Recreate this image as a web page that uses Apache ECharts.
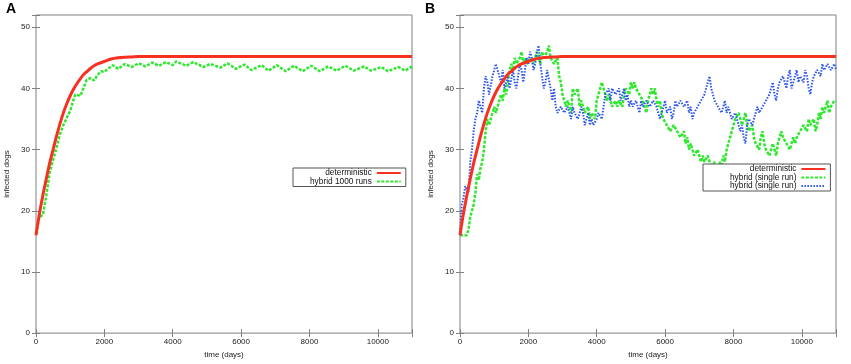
<!DOCTYPE html>
<html>
<head>
<meta charset="utf-8">
<script src="https://cdn.jsdelivr.net/npm/echarts@6/dist/echarts.min.js"></script>
<style>
  html, body { margin: 0; padding: 0; background: #fff; }
  #chart { width: 851px; height: 364px; }
</style>
</head>
<body>
<div id="chart"></div>
<script>
const FONT = "Liberation Sans, Arial, sans-serif";
const RED = "#f83020";
const GREEN = "#2ee82e";
const BLUE = "#2b55ec";
const FRAME = "#808080";

// deterministic model (same curve in both panels)
const detDays = [0, 100, 200, 300, 400, 500, 600, 700, 800, 900, 1000, 1100, 1200,
  1300, 1400, 1500, 1600, 1700, 1800, 2000, 2200, 2400, 2600, 2800, 3000, 4000,
  5000, 6000, 7000, 8000, 9000, 10000, 11000];
const detInfected = [16, 19.5, 22.5, 25.2, 27.8, 30, 32.2, 34.2, 36, 37.5, 38.8,
  39.9, 40.8, 41.6, 42.3, 42.8, 43.3, 43.7, 44, 44.4, 44.8, 45, 45.1, 45.15, 45.2,
  45.2, 45.2, 45.2, 45.2, 45.2, 45.2, 45.2, 45.2];

// panel A: mean of 1000 hybrid runs
const avgDays = [0, 100, 200, 300, 400, 500, 600, 700, 800, 900, 1000, 1100, 1150,
  1200, 1300, 1400, 1480, 1600, 1700, 1800, 1900, 2000, 2100, 2250, 2400, 2600,
  2800, 3000, 3200, 3400, 3600, 3800, 4000, 4100, 4400, 4600, 4900, 5100, 5400,
  5600, 5850, 6100, 6300, 6600, 6800, 7050, 7300, 7550, 7800, 8050, 8300, 8550,
  8800, 9050, 9300, 9600, 9800, 10100, 10300, 10600, 10800, 11000];
const avgInfected = [16.2, 19, 19.3, 22.5, 26.2, 28.3, 30.3, 32.5, 34, 35.2, 36.3,
  38.2, 39, 39.3, 38.8, 40.2, 41.4, 41.7, 41.3, 42.2, 42.8, 42.7, 43.2, 43.8, 43.2,
  44, 43.5, 44.1, 43.6, 44.2, 43.7, 44.3, 43.8, 44.4, 43.7, 44.3, 43.5, 44, 43.4,
  44.1, 43.2, 43.9, 43, 43.8, 42.9, 43.8, 42.8, 43.7, 42.8, 43.7, 42.8, 43.6, 42.9,
  43.7, 42.9, 43.6, 42.9, 43.5, 42.8, 43.5, 42.9, 43.6];

// panel B: two single hybrid runs, sampled every 50 days
const runDays = [
  0, 50, 100, 150, 200, 250, 300, 350, 400, 450, 500, 550, 600, 650, 700, 750, 800, 850, 900, 950,
  1000, 1050, 1100, 1150, 1200, 1250, 1300, 1350, 1400, 1450, 1500, 1550, 1600, 1650, 1700, 1750, 1800, 1850, 1900, 1950,
  2000, 2050, 2100, 2150, 2200, 2250, 2300, 2350, 2400, 2450, 2500, 2550, 2600, 2650, 2700, 2750, 2800, 2850, 2900, 2950,
  3000, 3050, 3100, 3150, 3200, 3250, 3300, 3350, 3400, 3450, 3500, 3550, 3600, 3650, 3700, 3750, 3800, 3850, 3900, 3950,
  4000, 4050, 4100, 4150, 4200, 4250, 4300, 4350, 4400, 4450, 4500, 4550, 4600, 4650, 4700, 4750, 4800, 4850, 4900, 4950,
  5000, 5050, 5100, 5150, 5200, 5250, 5300, 5350, 5400, 5450, 5500, 5550, 5600, 5650, 5700, 5750, 5800, 5850, 5900, 5950,
  6000, 6050, 6100, 6150, 6200, 6250, 6300, 6350, 6400, 6450, 6500, 6550, 6600, 6650, 6700, 6750, 6800, 6850, 6900, 6950,
  7000, 7050, 7100, 7150, 7200, 7250, 7300, 7350, 7400, 7450, 7500, 7550, 7600, 7650, 7700, 7750, 7800, 7850, 7900, 7950,
  8000, 8050, 8100, 8150, 8200, 8250, 8300, 8350, 8400, 8450, 8500, 8550, 8600, 8650, 8700, 8750, 8800, 8850, 8900, 8950,
  9000, 9050, 9100, 9150, 9200, 9250, 9300, 9350, 9400, 9450, 9500, 9550, 9600, 9650, 9700, 9750, 9800, 9850, 9900, 9950,
  10000, 10050, 10100, 10150, 10200, 10250, 10300, 10350, 10400, 10450, 10500, 10550, 10600, 10650, 10700, 10750, 10800, 10850, 10900, 10950,
  11000];
const runGreen = [
  16, 16, 16, 16, 16, 17, 19, 20, 21, 23, 26, 25, 27, 28, 30, 33, 35, 34, 35, 36,
  37, 36, 37, 38, 39, 38, 40, 39, 41, 43, 44, 43, 45, 44, 44, 45, 46, 44, 45, 44,
  44, 45, 45, 44, 45, 46, 45, 44, 46, 45, 45, 46, 47, 45, 45, 44, 44, 45, 42, 41,
  39, 38, 37, 38, 38, 36, 40, 39, 39, 40, 37, 38, 37, 36, 36, 37, 35, 36, 36, 35,
  38, 39, 40, 41, 41, 39, 38, 39, 38, 37, 37, 38, 37, 38, 38, 37, 39, 40, 40, 39,
  41, 40, 41, 40, 40, 39, 39, 38, 37, 36, 38, 39, 40, 39, 40, 38, 37, 38, 36, 35,
  35, 34, 34, 33, 33, 34, 34, 33, 33, 32, 32, 33, 31, 32, 30, 31, 30, 29, 29, 30,
  29, 28, 29, 28, 28, 29, 28, 27, 27, 28, 26, 27, 28, 27, 29, 28, 30, 31, 32, 33,
  34, 35, 35, 36, 35, 34, 35, 36, 34, 33, 33, 34, 32, 31, 31, 30, 32, 33, 31, 30,
  30, 29, 29, 31, 30, 29, 31, 32, 33, 32, 32, 31, 31, 30, 31, 32, 31, 32, 32, 33,
  33, 34, 34, 33, 35, 34, 34, 35, 33, 34, 36, 35, 37, 36, 37, 38, 36, 37, 37, 38,
  38];
const runBlue = [
  16, 21, 22, 24, 24, 23, 28, 30, 33, 35, 36, 38, 38, 36, 40, 42, 41, 39, 39, 42,
  42, 44, 44, 42, 41, 43, 40, 41, 42, 40, 40, 43, 41, 40, 42, 44, 43, 41, 43, 45,
  44, 46, 45, 43, 44, 46, 47, 44, 42, 40, 41, 43, 43, 40, 38, 40, 37, 36, 36, 37,
  37, 36, 36, 37, 36, 35, 37, 36, 36, 35, 35, 37, 36, 34, 35, 36, 34, 35, 34, 34,
  35, 36, 36, 35, 37, 39, 39, 40, 38, 40, 40, 39, 39, 40, 38, 39, 40, 38, 39, 37,
  38, 37, 37, 38, 37, 36, 38, 37, 37, 38, 38, 37, 37, 38, 38, 37, 37, 35, 36, 37,
  38, 36, 36, 37, 35, 36, 38, 37, 37, 38, 38, 37, 37, 38, 36, 37, 35, 36, 36, 37,
  37, 38, 38, 39, 40, 41, 42, 40, 39, 38, 38, 37, 37, 36, 37, 38, 36, 37, 36, 35,
  35, 36, 35, 34, 33, 34, 32, 31, 34, 35, 35, 34, 34, 36, 37, 36, 36, 37, 37, 38,
  38, 39, 40, 41, 39, 38, 40, 41, 41, 42, 42, 40, 42, 43, 40, 41, 42, 43, 41, 42,
  42, 41, 43, 42, 40, 39, 41, 42, 42, 43, 43, 42, 44, 43, 43, 44, 44, 43, 43, 44,
  43];

const xTicks = [0, 2000, 4000, 6000, 8000, 10000];
const yTicks = [0, 10, 20, 30, 40, 50];

const zip = (xs, ys) => xs.map((x, i) => [x, ys[i]]);

function bottomAxis(gridIndex) {
  return {
    type: "value", gridIndex, position: "bottom",
    min: 0, max: 11000, interval: 2000,
    axisLine: { show: false },
    splitLine: { show: false },
    axisTick: { inside: true, length: 4, lineStyle: { color: FRAME } },
    axisLabel: {
      margin: 5, fontSize: 8, color: "#222", fontFamily: FONT,
      formatter: (v) => (xTicks.includes(v) ? String(v) : ""),
    },
    name: "time (days)", nameLocation: "middle", nameGap: 17,
    nameTextStyle: { fontSize: 8, color: "#222", fontFamily: FONT },
  };
}
function topAxis(gridIndex) {
  return {
    type: "value", gridIndex, position: "top",
    min: 0, max: 11000, interval: 2000,
    axisLine: { show: false }, splitLine: { show: false }, axisLabel: { show: false },
    axisTick: { inside: true, length: 4, lineStyle: { color: FRAME } },
  };
}
function leftAxis(gridIndex) {
  return {
    type: "value", gridIndex, position: "left",
    min: 0, max: 52, interval: 10,
    axisLine: { show: false },
    splitLine: { show: false },
    axisTick: { inside: true, length: 4, lineStyle: { color: FRAME } },
    axisLabel: {
      margin: 6, fontSize: 8, color: "#222", fontFamily: FONT,
      formatter: (v) => (yTicks.includes(v) ? String(v) : ""),
    },
    name: "infected dogs", nameLocation: "middle", nameGap: 25,
    nameTextStyle: { fontSize: 8, color: "#222", fontFamily: FONT },
  };
}
function rightAxis(gridIndex) {
  return {
    type: "value", gridIndex, position: "right",
    min: 0, max: 52, interval: 10,
    axisLine: { show: false }, splitLine: { show: false }, axisLabel: { show: false },
    axisTick: { inside: true, length: 4, lineStyle: { color: FRAME } },
  };
}
function legendBox(names, left, top, padLeft) {
  return {
    data: names,
    orient: "vertical", align: "right",
    left, top,
    itemWidth: 24, itemHeight: 8, itemGap: 0.5,
    padding: [1, 4, 1, padLeft],
    borderColor: "#555", borderWidth: 1, borderRadius: 0,
    backgroundColor: "#fff",
    itemStyle: { opacity: 0 },
    selectedMode: false,
    textStyle: { fontSize: 8.3, color: "#111", fontFamily: FONT },
    formatter: (name) => name.replace(/ #\d$/, ""),
  };
}

const chartElement = document.getElementById("chart");
const chartInstance = echarts.init(chartElement);
const option = {
  animation: false,
  title: [
    { text: "A", left: 6, top: 2, padding: 0,
      textStyle: { fontSize: 14, fontWeight: "bold", color: "#000", fontFamily: FONT } },
    { text: "B", left: 425, top: 2, padding: 0,
      textStyle: { fontSize: 14, fontWeight: "bold", color: "#000", fontFamily: FONT } },
  ],
  grid: [
    { left: 36, top: 15, width: 376, height: 322, show: true, borderColor: FRAME, borderWidth: 1 },
    { left: 460, top: 15, width: 376, height: 322, show: true, borderColor: FRAME, borderWidth: 1 },
  ],
  xAxis: [bottomAxis(0), topAxis(0), bottomAxis(1), topAxis(1)],
  yAxis: [leftAxis(0), rightAxis(0), leftAxis(1), rightAxis(1)],
  legend: [
    legendBox(["deterministic", "hybrid 1000 runs"], 293, 168, 17),
    legendBox(["deterministic", "hybrid (single run) #1", "hybrid (single run) #2"], 703, 164, 27),
  ],
  series: [
    {
      name: "deterministic", type: "line", xAxisIndex: 0, yAxisIndex: 0,
      data: zip(detDays, detInfected), symbol: "none", smooth: 0.3,
      lineStyle: { color: RED, width: 3 }, itemStyle: { color: RED }, z: 3,
    },
    {
      name: "hybrid 1000 runs", type: "line", xAxisIndex: 0, yAxisIndex: 0,
      data: zip(avgDays, avgInfected), symbol: "none",
      lineStyle: { color: GREEN, width: 2.5, type: [3, 1.5] }, itemStyle: { color: GREEN }, z: 2,
    },
    {
      name: "deterministic", type: "line", xAxisIndex: 2, yAxisIndex: 2,
      data: zip(detDays, detInfected), symbol: "none", smooth: 0.3,
      lineStyle: { color: RED, width: 3 }, itemStyle: { color: RED }, z: 3,
    },
    {
      name: "hybrid (single run) #1", type: "line", xAxisIndex: 2, yAxisIndex: 2,
      data: zip(runDays, runGreen), symbol: "none",
      lineStyle: { color: GREEN, width: 2.5, type: [3, 1.5] }, itemStyle: { color: GREEN }, z: 2,
    },
    {
      name: "hybrid (single run) #2", type: "line", xAxisIndex: 2, yAxisIndex: 2,
      data: zip(runDays, runBlue), symbol: "none",
      lineStyle: { color: BLUE, width: 2, type: [1.5, 1.5] }, itemStyle: { color: BLUE }, z: 2,
    },
  ],
};
chartInstance.setOption(option);
</script>
</body>
</html>
